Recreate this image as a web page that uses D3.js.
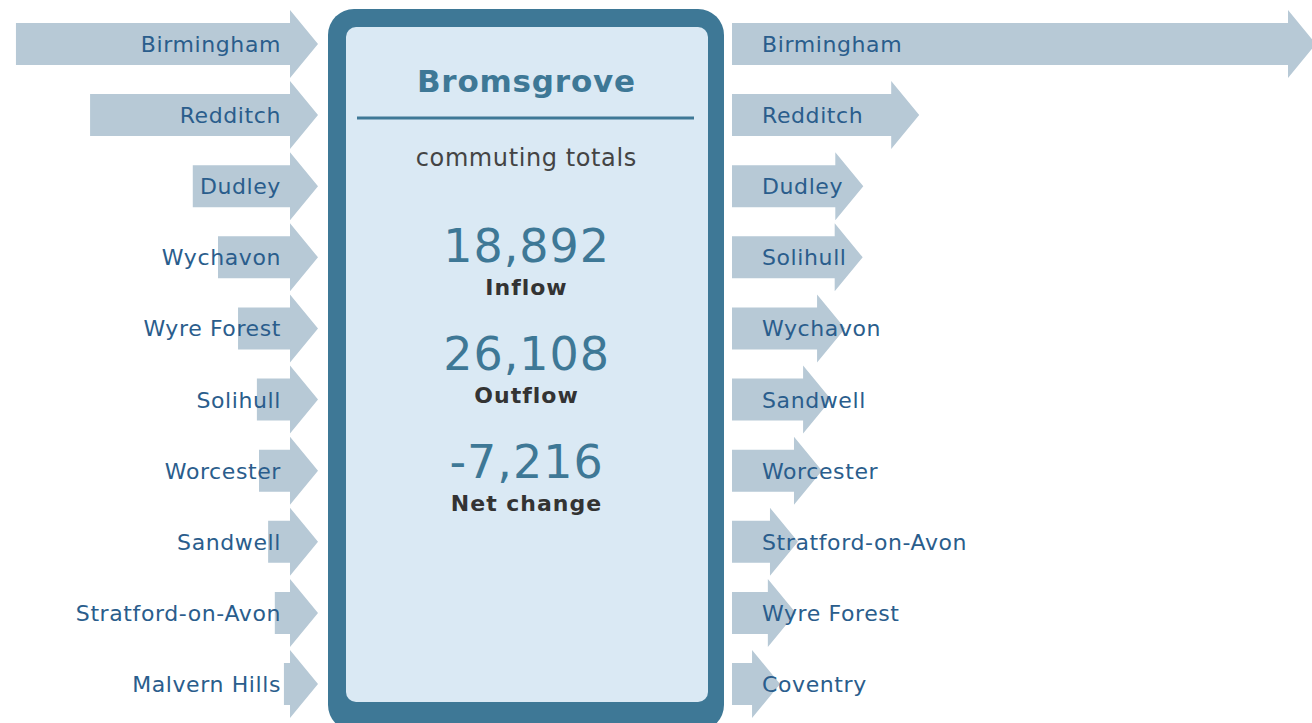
<!DOCTYPE html>
<html>
<head>
<meta charset="utf-8">
<script src="https://cdn.jsdelivr.net/npm/d3@7"></script>
<style>
  html, body { margin: 0; padding: 0; background: #fff; }
  svg { display: block; font-family: Verdana, "DejaVu Sans", sans-serif; }
</style>
</head>
<body>
<svg id="chart" width="1312" height="723"></svg>
<script>
// ---- data (people commuting) ----
const place = "Bromsgrove";
const inflowNames = ["Birmingham", "Redditch", "Dudley", "Wychavon", "Wyre Forest",
                     "Solihull", "Worcester", "Sandwell", "Stratford-on-Avon", "Malvern Hills"];
const inflowValues = [4510, 3290, 1600, 1185, 855, 545, 510, 360, 250, 100];
const outflowNames = ["Birmingham", "Redditch", "Dudley", "Solihull", "Wychavon",
                      "Sandwell", "Worcester", "Stratford-on-Avon", "Wyre Forest", "Coventry"];
const outflowValues = [9150, 2620, 1700, 1690, 1400, 1170, 1020, 625, 590, 330];
const totalLabels = ["Inflow", "Outflow", "Net change"];
const totalValues = [18892, 26108, -7216];

// ---- layout ----
const svg = d3.select("#chart");
const arrowFill = "#b7c9d6";
const labelColor = "#2a5d8c";
const frameColor = "#3e7896";

const len = d3.scaleLinear().domain([0, d3.max(outflowValues)]).range([0, 556]);
const y = d3.scalePoint().domain(d3.range(10)).range([44, 684]);

const headLen = 28, headHalf = 34, bodyHalf = 21;

// arrow pointing right, body from x0 to x1, head from x1 to x1+headLen
function arrowPath(x0, x1, cy) {
    const p = d3.path();
    p.moveTo(x0, cy - bodyHalf);
    p.lineTo(x1, cy - bodyHalf);
    p.lineTo(x1, cy - headHalf);
    p.lineTo(x1 + headLen, cy);
    p.lineTo(x1, cy + headHalf);
    p.lineTo(x1, cy + bodyHalf);
    p.lineTo(x0, cy + bodyHalf);
    p.closePath();
    return p.toString();
}

// inflow arrows (left), all ending at the frame
const leftEnd = 290;
const inG = svg.append("g").attr("class", "inflow");
inG.selectAll("path")
    .data(inflowValues)
    .join("path")
    .attr("d", (d, i) => arrowPath(leftEnd - len(d), leftEnd, y(i)))
    .attr("fill", arrowFill);
inG.selectAll("text")
    .data(inflowNames)
    .join("text")
    .attr("x", 281)
    .attr("y", (d, i) => y(i) + 8)
    .attr("text-anchor", "end")
    .attr("font-size", 22)
    .attr("letter-spacing", 0.6)
    .attr("fill", labelColor)
    .text(d => d);

// outflow arrows (right), all starting at the frame
const rightStart = 732;
const outG = svg.append("g").attr("class", "outflow");
outG.selectAll("path")
    .data(outflowValues)
    .join("path")
    .attr("d", (d, i) => arrowPath(rightStart, rightStart + len(d), y(i)))
    .attr("fill", arrowFill);
outG.selectAll("text")
    .data(outflowNames)
    .join("text")
    .attr("x", 762)
    .attr("y", (d, i) => y(i) + 8)
    .attr("font-size", 22)
    .attr("letter-spacing", 0.6)
    .attr("fill", labelColor)
    .text(d => d);

// centre panel
const panel = svg.append("g").attr("class", "panel");
panel.append("rect")
    .attr("x", 328).attr("y", 9)
    .attr("width", 396).attr("height", 722)
    .attr("rx", 26)
    .attr("fill", frameColor);
panel.append("rect")
    .attr("x", 346).attr("y", 27)
    .attr("width", 362).attr("height", 675)
    .attr("rx", 10)
    .attr("fill", "#dae9f4");

const cx = 526;
panel.append("text")
    .attr("x", cx + 0.4).attr("y", 92)
    .attr("text-anchor", "middle")
    .attr("font-size", 31)
    .attr("font-weight", "bold")
    .attr("letter-spacing", 0.8)
    .attr("fill", frameColor)
    .text(place);
panel.append("line")
    .attr("x1", 357).attr("x2", 694)
    .attr("y1", 118).attr("y2", 118)
    .attr("stroke", frameColor)
    .attr("stroke-width", 3);
panel.append("text")
    .attr("x", cx + 0.3).attr("y", 166)
    .attr("text-anchor", "middle")
    .attr("font-size", 24)
    .attr("letter-spacing", 0.6)
    .attr("fill", "#444")
    .text("commuting totals");

const fmt = d3.format(",");
const totals = panel.selectAll("g.total")
    .data(totalValues)
    .join("g")
    .attr("class", "total")
    .attr("transform", (d, i) => `translate(${cx},${262 + i * 108})`);
totals.append("text")
    .attr("x", 0.6)
    .attr("text-anchor", "middle")
    .attr("font-size", 46)
    .attr("letter-spacing", 1.0)
    .attr("fill", frameColor)
    .text(d => fmt(d).replace("−", "-"));
totals.append("text")
    .attr("x", 0.5)
    .attr("y", 33)
    .attr("text-anchor", "middle")
    .attr("font-size", 22)
    .attr("font-weight", "bold")
    .attr("letter-spacing", 1.0)
    .attr("fill", "#333")
    .text((d, i) => totalLabels[i]);
</script>
</body>
</html>
